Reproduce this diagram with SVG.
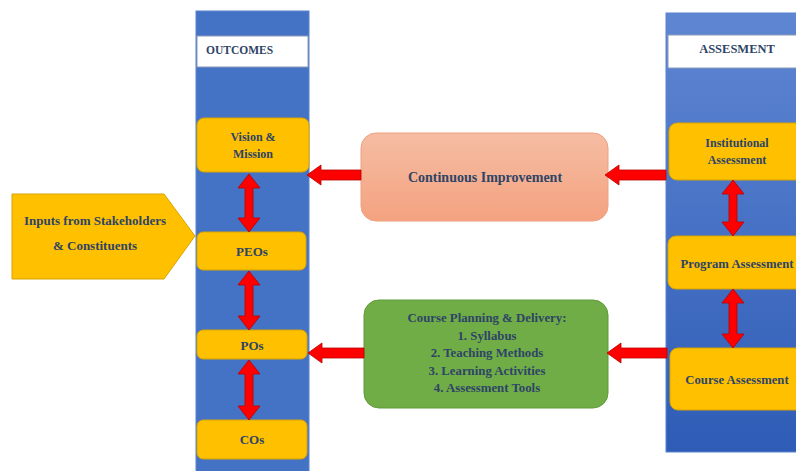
<svg xmlns="http://www.w3.org/2000/svg" width="796" height="471" viewBox="0 0 796 471">
<defs>
<linearGradient id="gAss" x1="0" y1="0" x2="0" y2="1"><stop offset="0" stop-color="#5F86D2"/><stop offset="1" stop-color="#2E5CB6"/></linearGradient>
<linearGradient id="gCI" x1="0" y1="0" x2="0" y2="1"><stop offset="0" stop-color="#F5BDA3"/><stop offset="1" stop-color="#F4A27F"/></linearGradient>
</defs>
<style>
.t{font-family:"Liberation Serif","Times New Roman",serif;font-weight:bold;fill:#2E4466;text-anchor:middle}
.node{fill:#FFC000;stroke:#D9A300;stroke-width:1}
.hdr{fill:#FFFFFF;stroke:#8A9AB8;stroke-width:1}
.arr{fill:#FF0000;stroke:#B80000;stroke-width:0.8}
</style>
<g id="outcomes-col">
<rect x="196" y="11" width="113" height="462" fill="#4472C4" stroke="#5A84CF"/>
<rect class="hdr" x="197" y="36" width="111" height="31"/>
<text class="t" x="206" y="54" font-size="11.5" style="text-anchor:start">OUTCOMES</text>
</g>
<g id="assessment-col">
<rect x="666" y="13" width="132" height="439" fill="url(#gAss)" stroke="#5A84CF"/>
<rect class="hdr" x="668" y="35" width="130" height="33"/>
<text class="t" x="737" y="53" font-size="12.5">ASSESMENT</text>
</g>
<g id="inputs">
<path d="M12,194 L164,194 L195,236 L164,279 L12,279 Z" fill="#FFC000" stroke="#D9A300"/>
<text class="t" x="95" y="225" font-size="13">Inputs from Stakeholders</text>
<text class="t" x="95" y="250" font-size="13">&amp; Constituents</text>
</g>
<g id="vision">
<rect class="node" x="197" y="118" width="112" height="54" rx="7"/>
<text class="t" x="253" y="141" font-size="12">Vision &amp;</text>
<text class="t" x="253" y="158" font-size="12">Mission</text>
</g>
<g id="peos">
<rect class="node" x="197" y="232" width="109" height="38" rx="6"/>
<text class="t" x="252" y="256" font-size="13">PEOs</text>
</g>
<g id="pos">
<rect class="node" x="197" y="330" width="110" height="29" rx="6"/>
<text class="t" x="252" y="350" font-size="13">POs</text>
</g>
<g id="cos">
<rect class="node" x="197" y="420" width="110" height="39" rx="6"/>
<text class="t" x="252" y="444" font-size="13">COs</text>
</g>
<g id="institutional">
<rect class="node" x="669" y="123" width="140" height="57" rx="8"/>
<text class="t" x="737" y="147" font-size="12">Institutional</text>
<text class="t" x="737" y="164" font-size="12">Assessment</text>
</g>
<g id="program">
<rect class="node" x="668" y="236" width="140" height="53" rx="8"/>
<text class="t" x="737" y="268" font-size="12.7">Program Assessment</text>
</g>
<g id="course">
<rect class="node" x="670" y="348" width="140" height="62" rx="8"/>
<text class="t" x="737" y="384" font-size="12.7">Course Assessment</text>
</g>
<g id="continuous">
<rect x="361" y="133" width="247" height="88" rx="15" fill="url(#gCI)" stroke="#F0A080"/>
<text class="t" x="485" y="182" font-size="14">Continuous Improvement</text>
</g>
<g id="planning">
<rect x="364" y="300" width="244" height="108" rx="15" fill="#70AD47" stroke="#5E9A3A"/>
<text class="t" x="487" y="322" font-size="12.8">Course Planning &amp; Delivery:</text>
<text class="t" x="487" y="340" font-size="12.8">1. Syllabus</text>
<text class="t" x="487" y="357" font-size="12.8">2. Teaching Methods</text>
<text class="t" x="487" y="375" font-size="12.8">3. Learning Activities</text>
<text class="t" x="487" y="392" font-size="12.8">4. Assessment Tools</text>
</g>
<g id="connectors">
<path class="arr" d="M249,174 L260,188 L253,188 L253,218 L260,218 L249,232 L238,218 L245,218 L245,188 L238,188 Z"/>
<path class="arr" d="M249,271 L260,285 L253,285 L253,316 L260,316 L249,330 L238,316 L245,316 L245,285 L238,285 Z"/>
<path class="arr" d="M249,360 L260,374 L253,374 L253,406 L260,406 L249,420 L238,406 L245,406 L245,374 L238,374 Z"/>
<path class="arr" d="M733,180 L744,194 L737,194 L737,222 L744,222 L733,236 L722,222 L729,222 L729,194 L722,194 Z"/>
<path class="arr" d="M733,289 L744,303 L737,303 L737,334 L744,334 L733,348 L722,334 L729,334 L729,303 L722,303 Z"/>
<path class="arr" d="M307,175 L321,165 L321,170 L361,170 L361,180 L321,180 L321,185 Z"/>
<path class="arr" d="M605,175 L619,165 L619,170 L666,170 L666,180 L619,180 L619,185 Z"/>
<path class="arr" d="M308,353 L322,343 L322,348 L364,348 L364,358 L322,358 L322,363 Z"/>
<path class="arr" d="M607,353 L621,343 L621,348 L667,348 L667,358 L621,358 L621,363 Z"/>
</g>
</svg>
